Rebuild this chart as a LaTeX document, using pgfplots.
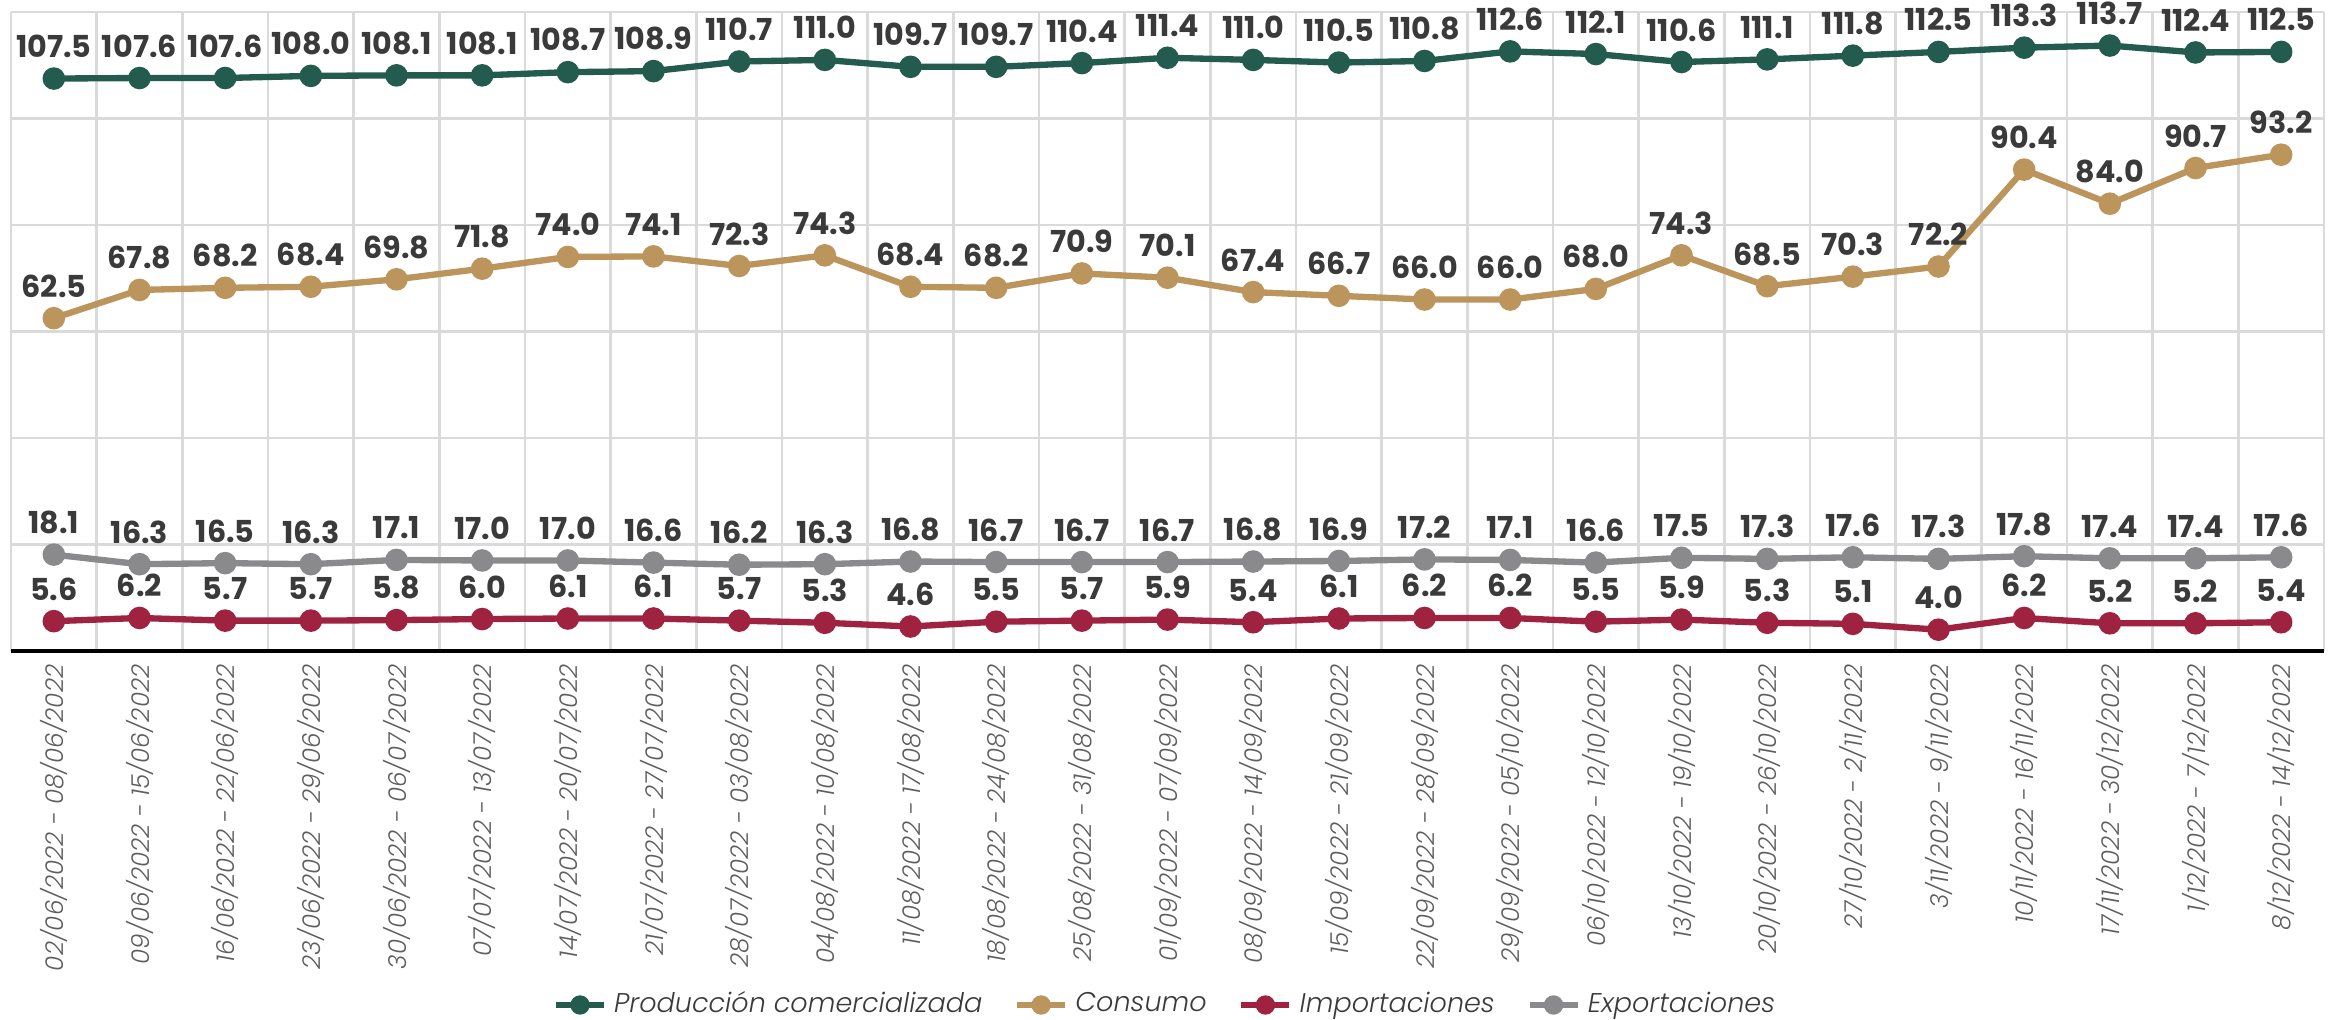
\documentclass[border=0pt]{standalone}
\usepackage{fontspec}
\setmainfont{Poppins}
\newfontfamily\finafont{Poppins Light}[ItalicFont={Poppins Light Italic}]
\usepackage{pgfplots}
\pgfplotsset{compat=1.18}
\definecolor{verde}{HTML}{235B4E}
\definecolor{oro}{HTML}{BC955C}
\definecolor{guinda}{HTML}{9F2241}
\definecolor{gris}{HTML}{8A8A8C}
\definecolor{tinta}{HTML}{3A3A3A}
\definecolor{eje}{HTML}{5E5E5E}
\definecolor{rejilla}{HTML}{DADADA}
\pgfplotsset{/pgf/number format/assume math mode=true,
serie/.style={line width=1.8pt,mark=*,mark size=2.3pt,
 nodes near coords={\pgfmathprintnumber[fixed,fixed zerofill,precision=1]{\pgfplotspointmeta}},
 every node near coord/.append style={font=\bfseries\fontsize{8.6}{10}\selectfont,text=tinta,inner sep=1pt,yshift=4pt}}}

\begin{document}
\begin{tikzpicture}
\useasboundingbox (-0.11cm,-3.69cm) rectangle (23.24cm,6.51cm);
\begin{axis}[scale only axis,width=23.13cm,height=6.39cm,
xmin=-0.5,xmax=26.5,ymin=0,ymax=120,clip=false,
axis line style={draw=none},
ytick={0,20,...,120},yticklabels={},ymajorgrids,
xtick={0,...,26},minor xtick={-0.5,0.5,...,26.5},xminorgrids,
major tick length=0pt,minor tick length=0pt,
grid style={rejilla,line width=0.7pt},minor grid style={rejilla,line width=0.7pt},
xticklabels={02/06/2022 - 08/06/2022,09/06/2022 - 15/06/2022,16/06/2022 - 22/06/2022,23/06/2022 - 29/06/2022,30/06/2022 - 06/07/2022,07/07/2022 - 13/07/2022,14/07/2022 - 20/07/2022,21/07/2022 - 27/07/2022,28/07/2022 - 03/08/2022,04/08/2022 - 10/08/2022,11/08/2022 - 17/08/2022,18/08/2022 - 24/08/2022,25/08/2022 - 31/08/2022,01/09/2022 - 07/09/2022,08/09/2022 - 14/09/2022,15/09/2022 - 21/09/2022,22/09/2022 - 28/09/2022,29/09/2022 - 05/10/2022,06/10/2022 - 12/10/2022,13/10/2022 - 19/10/2022,20/10/2022 - 26/10/2022,27/10/2022 - 2/11/2022,3/11/2022 - 9/11/2022,10/11/2022 - 16/11/2022,17/11/2022 - 30/12/2022,1/12/2022 - 7/12/2022,8/12/2022 - 14/12/2022},
xticklabel style={rotate=90,anchor=east,font=\finafont\itshape\fontsize{7}{8}\selectfont,text=eje,inner sep=0pt,xshift=-1.3mm},
legend columns=4,
legend style={at={(0.5,-0.554)},anchor=center,draw=none,fill=none,font=\finafont\itshape\fontsize{7.7}{10}\selectfont,text=tinta,
 /tikz/every even column/.append style={column sep=7pt}},
legend image post style={scale=0.8},
]
\addplot[serie,verde] coordinates {(0,107.5) (1,107.6) (2,107.6) (3,108.0) (4,108.1) (5,108.1) (6,108.7) (7,108.9) (8,110.7) (9,111.0) (10,109.7) (11,109.7) (12,110.4) (13,111.4) (14,111.0) (15,110.5) (16,110.8) (17,112.6) (18,112.1) (19,110.6) (20,111.1) (21,111.8) (22,112.5) (23,113.3) (24,113.7) (25,112.4) (26,112.5)};
\addlegendentry{Producción comercializada}
\addplot[serie,oro] coordinates {(0,62.5) (1,67.8) (2,68.2) (3,68.4) (4,69.8) (5,71.8) (6,74.0) (7,74.1) (8,72.3) (9,74.3) (10,68.4) (11,68.2) (12,70.9) (13,70.1) (14,67.4) (15,66.7) (16,66.0) (17,66.0) (18,68.0) (19,74.3) (20,68.5) (21,70.3) (22,72.2) (23,90.4) (24,84.0) (25,90.7) (26,93.2)};
\addlegendentry{Consumo}
\addplot[serie,guinda] coordinates {(0,5.6) (1,6.2) (2,5.7) (3,5.7) (4,5.8) (5,6.0) (6,6.1) (7,6.1) (8,5.7) (9,5.3) (10,4.6) (11,5.5) (12,5.7) (13,5.9) (14,5.4) (15,6.1) (16,6.2) (17,6.2) (18,5.5) (19,5.9) (20,5.3) (21,5.1) (22,4.0) (23,6.2) (24,5.2) (25,5.2) (26,5.4)};
\addlegendentry{Importaciones}
\addplot[serie,gris] coordinates {(0,18.1) (1,16.3) (2,16.5) (3,16.3) (4,17.1) (5,17.0) (6,17.0) (7,16.6) (8,16.2) (9,16.3) (10,16.8) (11,16.7) (12,16.7) (13,16.7) (14,16.8) (15,16.9) (16,17.2) (17,17.1) (18,16.6) (19,17.5) (20,17.3) (21,17.6) (22,17.3) (23,17.8) (24,17.4) (25,17.4) (26,17.6)};
\addlegendentry{Exportaciones}
\draw[black,line width=1.1pt] (axis cs:-0.5,0) -- (axis cs:26.5,0);
\end{axis}
\end{tikzpicture}
\end{document}
